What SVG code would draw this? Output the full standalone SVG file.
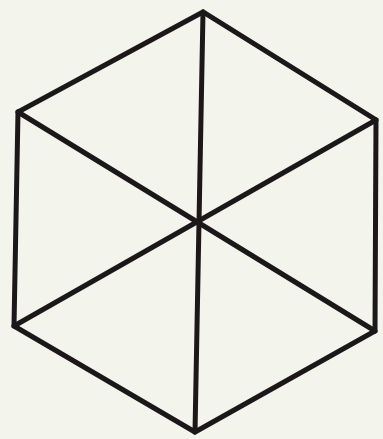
<svg xmlns="http://www.w3.org/2000/svg" width="383" height="439" viewBox="0 0 383 439">
<style>
.e{stroke:#1c1719;stroke-width:5;fill:none;stroke-linecap:round;stroke-linejoin:miter}
</style>
<rect width="383" height="439" fill="#f3f5ec"/>
<g id="hexagon">
<polygon class="e" points="203,12 18,112 14,326 195,432 375,331 376,120"/>
</g>
<g id="connectors">
<line class="e" x1="203" y1="12" x2="195" y2="432"/>
<line class="e" x1="18" y1="112" x2="375" y2="331"/>
<line class="e" x1="14" y1="326" x2="376" y2="120"/>
</g>
</svg>
